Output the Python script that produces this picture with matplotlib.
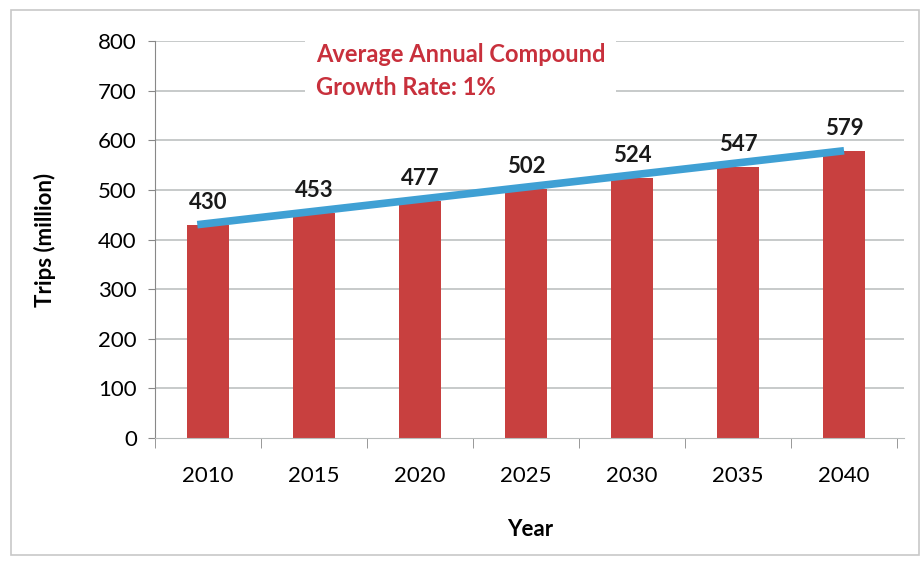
import numpy as np
import matplotlib.pyplot as plt
from matplotlib.patches import Rectangle

years = ['2010', '2015', '2020', '2025', '2030', '2035', '2040']
trips = [430, 453, 477, 502, 524, 547, 579]
y_ticks = [0, 100, 200, 300, 400, 500, 600, 700, 800]

plt.rcParams['font.family'] = ['Lato', 'DejaVu Sans']

fig = plt.figure(figsize=(9.22, 5.63), dpi=100)
ax = fig.add_axes([0.168, 0.222, 0.813, 0.705])

x = np.arange(len(years))

# grid first so the bars sit on top of it
for v in y_ticks[1:]:
    ax.axhline(v, color='#b8bcbc', lw=1.1, zorder=0)

ax.bar(x, trips, width=0.4, color='#c8403f', zorder=2)

# straight trend line from the first to the last year
ax.plot([x[0] - 0.1, x[-1]], [trips[0], trips[-1]], color='#3fa0d4', lw=5.5,
        solid_capstyle='butt', zorder=3)

for xi, v in zip(x, trips):
    ax.text(xi, v + 24, str(v), ha='center', va='bottom', fontsize=16,
            fontweight='bold', color='#1a1a1a', zorder=4)

ax.set_xlim(-0.5, len(years) - 0.5 + 0.07)
ax.set_ylim(0, 800)
ax.set_yticks(y_ticks)
ax.set_xticks(x)
ax.set_xticklabels(years, fontsize=16)
ax.tick_params(axis='x', length=0, pad=20)
ax.tick_params(axis='y', labelsize=16, length=5, color='#888888', pad=8)
# category separators on the x axis
ax.set_xticks(np.arange(-0.5, len(years)), minor=True)
ax.tick_params(axis='x', which='minor', length=7, color='#888888', direction='out')

for s in ['top', 'right']:
    ax.spines[s].set_visible(False)
ax.spines['left'].set_color('#888888')
ax.spines['bottom'].set_color('#b8bcbc')

ax.set_ylabel('Trips (million)', fontsize=16, fontweight='bold', labelpad=30)
ax.set_xlabel('Year', fontsize=16, fontweight='bold', labelpad=24)

ax.text(0.215, 0.995, 'Average Annual Compound\nGrowth Rate: 1%', transform=ax.transAxes,
        ha='left', va='top', fontsize=17, fontweight='bold', color='#c8303c',
        linespacing=1.5, zorder=5,
        bbox=dict(boxstyle='square,pad=0.45', fc='white', ec='none'))

# outer chart frame
fig.patches.append(Rectangle((0.012, 0.015), 0.985, 0.968, transform=fig.transFigure,
                             fill=False, ec='#c8c8c8', lw=1.2))

fig.savefig('out.png', dpi=100)
